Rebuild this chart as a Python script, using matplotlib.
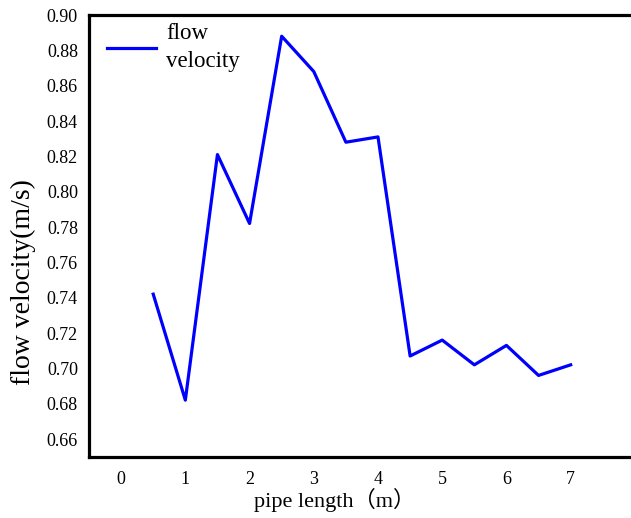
import matplotlib
matplotlib.use("Agg")
import matplotlib.pyplot as plt

x_vals = [0.5, 1.0, 1.5, 2.0, 2.5, 3.0, 3.5, 4.0, 4.5, 5.0, 5.5, 6.0, 6.5, 7.0]
velocity = [0.742, 0.682, 0.821, 0.782, 0.888, 0.868, 0.828, 0.831,
            0.707, 0.716, 0.702, 0.713, 0.696, 0.702]
x_ticks = [0, 1, 2, 3, 4, 5, 6, 7, 8]
y_ticks = [0.66, 0.68, 0.70, 0.72, 0.74, 0.76, 0.78, 0.80, 0.82, 0.84, 0.86, 0.88, 0.90]

plt.rcParams['font.family'] = ['Liberation Serif', 'Noto Sans CJK SC']

fig = plt.figure(figsize=(6.31, 5.18), dpi=100)
ax = fig.add_axes([89/631, 61.3/518, 578/631, 441.7/518])

ax.plot(x_vals, velocity, color='#0000ff', lw=2.3, label='flow\nvelocity')

ax.set_xlim(-0.5, 8.5)
ax.set_ylim(0.65, 0.90)
ax.set_xticks(x_ticks)
ax.set_xticklabels([str(t) for t in x_ticks])
ax.set_yticks(y_ticks)
ax.set_yticklabels([f"{t:.2f}" for t in y_ticks])
ax.tick_params(axis='both', length=0, labelsize=13)
ax.tick_params(axis='x', pad=10)
ax.tick_params(axis='y', pad=8)

for s in ax.spines.values():
    s.set_linewidth(2.3)
    s.set_color('black')

ax.set_xlabel('pipe length（m）', fontsize=16)
ax.xaxis.set_label_coords((335 - 89) / 578, -31 / 441.7)
ax.set_ylabel('flow velocity(m/s)', fontsize=20)
ax.yaxis.set_label_coords(-(89 - 36) / 578, (457 - 282) / 441.7)

leg = ax.legend(loc='upper left', frameon=False, fontsize=16.5, handlelength=2.14,
                handletextpad=0.44, borderpad=0, borderaxespad=0,
                bbox_to_anchor=((107 - 89) / 578, 0.982))
for t in leg.get_texts():
    t.set_linespacing(1.45)

fig.savefig('out.png', dpi=100)
